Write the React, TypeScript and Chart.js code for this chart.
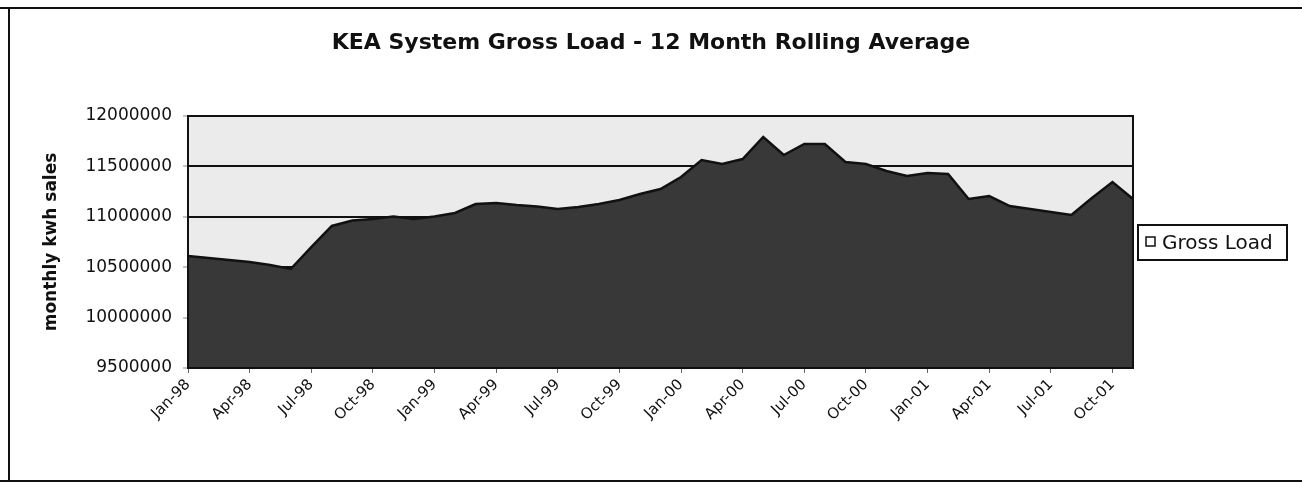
import React, { useEffect, useRef } from 'react';
import { Chart, registerables } from 'chart.js';

Chart.register(...registerables);

// ---- data ----
const monthLabels = [
  'Jan-98', 'Feb-98', 'Mar-98', 'Apr-98', 'May-98', 'Jun-98', 'Jul-98', 'Aug-98', 'Sep-98', 'Oct-98', 'Nov-98', 'Dec-98',
  'Jan-99', 'Feb-99', 'Mar-99', 'Apr-99', 'May-99', 'Jun-99', 'Jul-99', 'Aug-99', 'Sep-99', 'Oct-99', 'Nov-99', 'Dec-99',
  'Jan-00', 'Feb-00', 'Mar-00', 'Apr-00', 'May-00', 'Jun-00', 'Jul-00', 'Aug-00', 'Sep-00', 'Oct-00', 'Nov-00', 'Dec-00',
  'Jan-01', 'Feb-01', 'Mar-01', 'Apr-01', 'May-01', 'Jun-01', 'Jul-01', 'Aug-01', 'Sep-01', 'Oct-01', 'Nov-01',
];

const axisTickLabels = [
  'Jan-98', 'Apr-98', 'Jul-98', 'Oct-98', 'Jan-99', 'Apr-99', 'Jul-99', 'Oct-99',
  'Jan-00', 'Apr-00', 'Jul-00', 'Oct-00', 'Jan-01', 'Apr-01', 'Jul-01', 'Oct-01',
];

const grossLoad = [
  10611000, 10591000, 10571000, 10552000, 10522000, 10482000, 10700000, 10909000, 10963000, 10978000, 11003000, 10978000,
  11003000, 11038000, 11127000, 11137000, 11117000, 11102000, 11077000, 11097000, 11127000, 11167000, 11226000, 11276000,
  11395000, 11563000, 11524000, 11573000, 11792000, 11613000, 11722000, 11722000, 11544000, 11524000, 11454000, 11405000,
  11435000, 11425000, 11177000, 11206000, 11107000, 11077000, 11048000, 11018000, 11187000, 11345000, 11177000,
];

const yTickValues = [9500000, 10000000, 10500000, 11000000, 11500000, 12000000];

const seriesName = 'Gross Load';
const chartTitle = 'KEA System Gross Load - 12 Month Rolling Average';
const yAxisTitle = 'monthly kwh sales';

// ---- styles ----
const FONT = "'DejaVu Sans', 'Liberation Sans', Arial, sans-serif";
const INK = '#111111';
const PLOT_BG = '#ebebeb';
const AREA_FILL = '#383838';

const decorPlugin = {
  id: 'decor',
  beforeDraw(chart: any) {
    const { ctx, chartArea: a, width, height } = chart;
    ctx.save();
    ctx.fillStyle = '#ffffff';
    ctx.fillRect(0, 0, width, height);
    ctx.fillStyle = PLOT_BG;
    ctx.fillRect(a.left, a.top, a.right - a.left, a.bottom - a.top);
    ctx.restore();
  },
  afterDatasetsDraw(chart: any) {
    const { ctx, chartArea: a } = chart;
    ctx.save();
    ctx.strokeStyle = INK;
    ctx.lineWidth = 2;
    ctx.strokeRect(a.left, a.top, a.right - a.left, a.bottom - a.top);
    ctx.restore();
  },
  afterDraw(chart: any) {
    const { ctx, chartArea: a, width, height } = chart;
    ctx.save();
    // legend box
    const lx = a.right + 5;
    const lw = 149;
    const lh = 35;
    const ly = (a.top + a.bottom) / 2 - 17;
    ctx.fillStyle = '#ffffff';
    ctx.fillRect(lx, ly, lw, lh);
    ctx.strokeStyle = INK;
    ctx.lineWidth = 2;
    ctx.strokeRect(lx, ly, lw, lh);
    ctx.lineWidth = 1.5;
    ctx.fillStyle = '#ffffff';
    ctx.fillRect(lx + 8, ly + 12, 9, 9);
    ctx.strokeRect(lx + 8, ly + 12, 9, 9);
    ctx.fillStyle = INK;
    ctx.font = `20px ${FONT}`;
    ctx.textBaseline = 'middle';
    ctx.textAlign = 'left';
    ctx.fillText(chart.data.datasets[0].label, lx + 24, ly + lh / 2 + 1);
    // outer frame
    ctx.lineWidth = 2;
    ctx.beginPath();
    ctx.moveTo(0, 8);
    ctx.lineTo(width, 8);
    ctx.moveTo(9, 8);
    ctx.lineTo(9, height - 8);
    ctx.moveTo(0, height - 8);
    ctx.lineTo(width, height - 8);
    ctx.stroke();
    ctx.restore();
  },
};

export default function App() {
  const canvasRef = useRef<HTMLCanvasElement | null>(null);

  useEffect(() => {
    if (!canvasRef.current) return;
    const isAxisTick = (i: number) => axisTickLabels.includes(monthLabels[i]);
    const chart = new Chart(canvasRef.current, {
      type: 'line',
      data: {
        labels: monthLabels,
        datasets: [
          {
            label: seriesName,
            data: grossLoad,
            fill: 'start',
            backgroundColor: AREA_FILL,
            borderColor: INK,
            borderWidth: 2.5,
            pointRadius: 0,
            tension: 0,
            yAxisID: 'y',
          },
        ],
      },
      options: {
        animation: false,
        responsive: true,
        maintainAspectRatio: false,
        layout: { padding: 0 },
        plugins: {
          legend: { display: false },
          tooltip: { enabled: false },
          title: {
            display: true,
            text: chartTitle,
            color: INK,
            font: { family: FONT, size: 22, weight: 'bold' },
            padding: { top: 30, bottom: 59.6 },
          },
        },
        scales: {
          x: {
            type: 'category',
            offset: false,
            border: { display: false },
            grid: {
              display: true,
              drawOnChartArea: false,
              drawTicks: true,
              tickLength: 5,
              lineWidth: 1,
              color: (ctx: any) => (isAxisTick(ctx.index) ? '#666666' : 'rgba(0,0,0,0)'),
            },
            ticks: {
              autoSkip: false,
              minRotation: 45,
              maxRotation: 45,
              padding: 3,
              color: INK,
              font: { family: FONT, size: 15 },
              callback: (_v: any, i: number) => (isAxisTick(i) ? monthLabels[i] : ''),
            },
            afterFit: (s: any) => {
              s.height = 121;
            },
          },
          y: {
            type: 'linear',
            position: 'left',
            min: 9500000,
            max: 12000000,
            border: { display: false },
            grid: {
              color: INK,
              lineWidth: 2,
              drawTicks: true,
              tickLength: 5,
              tickColor: '#888888',
              tickWidth: 1,
            },
            afterBuildTicks: (s: any) => {
              s.ticks = yTickValues.map((v) => ({ value: v }));
            },
            ticks: {
              padding: 11,
              color: INK,
              font: { family: FONT, size: 17 },
              callback: (v: any) => String(v),
            },
            title: {
              display: true,
              text: yAxisTitle,
              color: INK,
              font: { family: FONT, size: 17, weight: 'bold' },
              padding: { top: 41, bottom: 0 },
            },
            afterFit: (s: any) => {
              s.width = 188;
            },
          },
          legendSpace: {
            type: 'linear',
            position: 'right',
            display: true,
            border: { display: false },
            grid: { display: false, drawTicks: false },
            ticks: { display: false },
            afterFit: (s: any) => {
              s.width = 169;
            },
          },
        },
      },
      plugins: [decorPlugin],
    });
    return () => chart.destroy();
  }, []);

  return (
    <div style={{ position: 'fixed', left: 0, top: 0, width: 1302, height: 489, background: '#ffffff' }}>
      <canvas ref={canvasRef} />
    </div>
  );
}
